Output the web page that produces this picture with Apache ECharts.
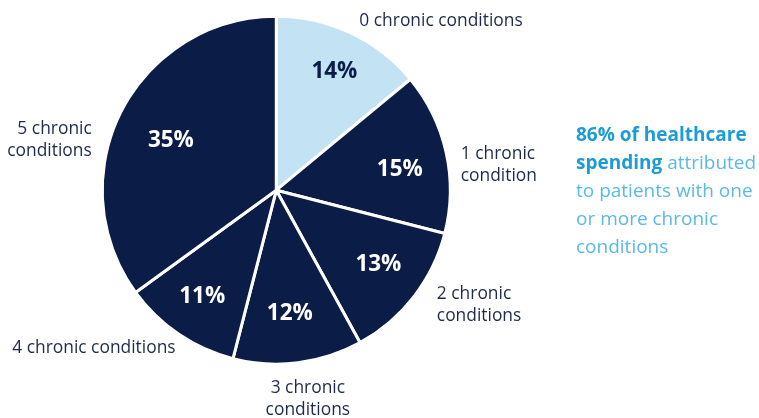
<!DOCTYPE html>
<html>
<head>
<meta charset="utf-8">
<script src="https://cdn.jsdelivr.net/npm/echarts@6/dist/echarts.min.js"></script>
<style>html,body{margin:0;padding:0;background:#fff}#c{width:759px;height:418px}</style>
</head>
<body>
<div id="c"></div>
<script>
const categories = ['0 chronic conditions', '1 chronic\ncondition', '2 chronic\nconditions', '3 chronic\nconditions', '4 chronic conditions', '5 chronic\nconditions'];
const shares = [14, 15, 13, 12, 11, 35];
const sliceColors = ['#c3e2f4', '#0b1c47', '#0b1c47', '#0b1c47', '#0b1c47', '#0b1c47'];
const pctColors = ['#0b1c47', '#ffffff', '#ffffff', '#ffffff', '#ffffff', '#ffffff'];
const labelShift = [[-4,1,null],[-6,16,null],[5,0,null],[1,22,'center'],[12,2,null],[-10,35,null]];
const pctShift = [[2,1],[-5,8],[-2,-6],[-3,-7],[0,-3],[12,10]];

const FONT = '"Open Sans", "Noto Sans", sans-serif';
const chart = echarts.init(document.getElementById('c'), null, {renderer: 'canvas'});
const center = ['36.4%', '45.5%'];
const R = 174;

chart.setOption({
  animation: false,
  series: [
    {
      type: 'pie', center: center, radius: [0, R], startAngle: 90, clockwise: true,
      avoidLabelOverlap: false, silent: true,
      itemStyle: {borderColor: '#fff', borderWidth: 3},
      label: {show: true, position: 'outside', color: '#1f2a4d', fontFamily: FONT, fontSize: 17.4, lineHeight: 22, formatter: p => p.name},
      labelLine: {show: false, length: 14, length2: 2},
      labelLayout: function (p) {
        const s = labelShift[p.dataIndex];
        const o = {dx: s[0], dy: s[1]};
        if (s[2]) o.align = s[2];
        return o;
      },
      data: categories.map((c, i) => ({name: c, value: shares[i], itemStyle: {color: sliceColors[i]}}))
    },
    {
      type: 'pie', center: center, radius: [0, 2 * 0.74 * R], startAngle: 90, clockwise: true,
      avoidLabelOverlap: false, silent: true, z: 5,
      itemStyle: {color: 'rgba(0,0,0,0)'},
      label: {show: true, position: 'inside', fontFamily: FONT, fontSize: 22.5, fontWeight: 'bold', formatter: p => p.value + '%'},
      labelLine: {show: false},
      labelLayout: function (p) {
        const s = pctShift[p.dataIndex];
        return {dx: s[0], dy: s[1]};
      },
      data: categories.map((c, i) => ({name: c, value: shares[i], label: {color: pctColors[i]}}))
    }
  ],
  graphic: [{
    type: 'text', left: 576, top: 122,
    style: {
      text: '{b|86% of healthcare}\n{b|spending} {n|attributed}\n{n|to patients with one}\n{n|or more chronic}\n{n|conditions}',
      fontFamily: FONT, fontSize: 19, lineHeight: 28,
      rich: {
        b: {fontFamily: FONT, fontSize: 19, fontWeight: 'bold', fill: '#1b9bd7', lineHeight: 28},
        n: {fontFamily: FONT, fontSize: 19, fill: '#5bb9e7', lineHeight: 28}
      }
    }
  }]
});
</script>
</body>
</html>
